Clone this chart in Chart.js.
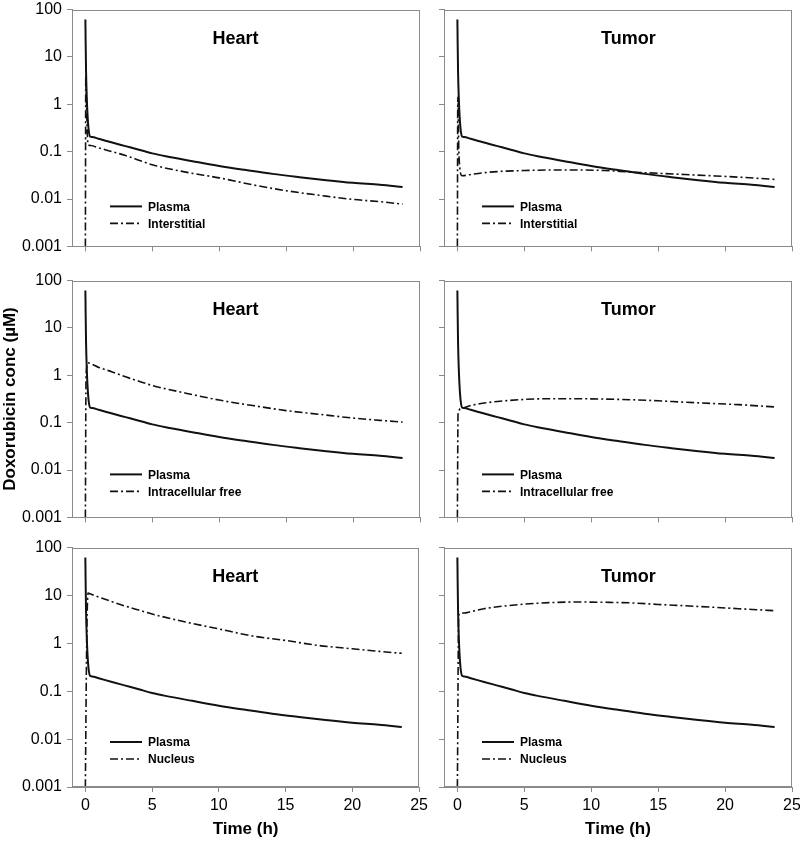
<!DOCTYPE html>
<html>
<head>
<meta charset="utf-8">
<script src="https://cdn.jsdelivr.net/npm/chart.js@4.4.1/dist/chart.umd.min.js"></script>
<style>
html, body { margin: 0; padding: 0; background: #fff; overflow: hidden; }
#wrap { position: relative; width: 800px; height: 843px; overflow: hidden; }
#wrap canvas { position: absolute; }
</style>
</head>
<body>
<div id="wrap"></div>
<script>
// Doxorubicin conc (µM) vs time (h)
const plasmaTime = [0, 0.02, 0.05, 0.1, 0.2, 0.35, 0.5, 1, 2, 3, 4, 5, 6, 8, 10, 12, 14, 16, 18, 20, 22, 23.7];
const plasmaConc = [62, 20, 5, 1.5, 0.4, 0.21, 0.204, 0.187, 0.156, 0.131, 0.11, 0.092, 0.08, 0.063, 0.05, 0.041, 0.034, 0.029, 0.025, 0.022, 0.02, 0.018];

const heartInterTime = [0, 0.03, 0.1, 0.2, 0.4, 1, 2, 3, 5, 7.5, 10, 12.5, 15, 17.5, 20, 22, 23.7];
const heartInterConc = [0.001, 4, 0.6, 0.14, 0.135, 0.12, 0.1, 0.083, 0.053, 0.037, 0.028, 0.02, 0.015, 0.012, 0.0098, 0.0088, 0.0078];

const tumorInterTime = [0, 0.03, 0.12, 0.35, 1, 2, 3, 5, 7, 9, 11, 13, 15, 17, 19, 21, 23.7];
const tumorInterConc = [0.001, 1.4, 0.08, 0.031, 0.033, 0.036, 0.038, 0.04, 0.041, 0.041, 0.04, 0.037, 0.035, 0.033, 0.031, 0.029, 0.026];

const heartFreeTime = [0, 0.05, 0.2, 0.4, 1, 2, 3, 4, 5, 7.5, 10, 12.5, 15, 17.5, 20, 22, 23.7];
const heartFreeConc = [0.001, 1.0, 1.84, 1.76, 1.47, 1.18, 0.93, 0.75, 0.61, 0.42, 0.30, 0.23, 0.18, 0.15, 0.125, 0.112, 0.103];

const tumorFreeTime = [0, 0.05, 0.3, 1, 2, 3, 5, 7, 9, 11, 13, 15, 17, 19, 21, 23.7];
const tumorFreeConc = [0.001, 0.15, 0.2, 0.23, 0.26, 0.28, 0.31, 0.32, 0.32, 0.315, 0.305, 0.29, 0.27, 0.255, 0.24, 0.215];

const heartNucTime = [0, 0.1, 0.2, 0.4, 1, 2, 3, 4, 5, 7.5, 10, 12.5, 15, 17.5, 20, 22, 23.7];
const heartNucConc = [0.001, 1.0, 11.2, 10.7, 9.3, 7.4, 6.0, 4.95, 4.1, 2.8, 2.0, 1.43, 1.15, 0.9, 0.77, 0.68, 0.62];

const tumorNucTime = [0, 0.1, 0.5, 1, 2, 3, 5, 7, 9, 11, 13, 15, 17, 19, 21, 23.7];
const tumorNucConc = [0.001, 3.9, 4.3, 4.6, 5.3, 5.8, 6.6, 7.1, 7.3, 7.2, 7.0, 6.5, 6.1, 5.7, 5.3, 4.8];

const timeTicks = [0, 5, 10, 15, 20, 25];
const concTicks = [0.001, 0.01, 0.1, 1, 10, 100];
const concLabels = ['0.001', '0.01', '0.1', '1', '10', '100'];

const panels = [
	{row: 0, col: 0, title: 'Heart', name: 'Interstitial', time: heartInterTime, conc: heartInterConc},
	{row: 0, col: 1, title: 'Tumor', name: 'Interstitial', time: tumorInterTime, conc: tumorInterConc},
	{row: 1, col: 0, title: 'Heart', name: 'Intracellular free', time: heartFreeTime, conc: heartFreeConc},
	{row: 1, col: 1, title: 'Tumor', name: 'Intracellular free', time: tumorFreeTime, conc: tumorFreeConc},
	{row: 2, col: 0, title: 'Heart', name: 'Nucleus', time: heartNucTime, conc: heartNucConc},
	{row: 2, col: 1, title: 'Tumor', name: 'Nucleus', time: tumorNucTime, conc: tumorNucConc},
];

const FONT = '"Liberation Sans", Arial, Helvetica, sans-serif';
Chart.defaults.font.family = FONT;
Chart.defaults.color = '#000';

const axisColor = '#8a8a8a';

// layout of the 3x2 grid (canvas boxes; plot areas line up through padding + forced axis sizes)
const cols = [
	{left: 0, width: 432, padRight: 12, yWidth: 72, titleX: 0.47},
	{left: 420, width: 392, padRight: 20, yWidth: 24, titleX: 0.53},
];
const rows = [
	{top: -5, axisH: 12, legendBottom: 40},
	{top: 266, axisH: 12, legendBottom: 43},
	{top: 533, axisH: 56, legendBottom: 45},
];
const PAD_TOP = 12;
const PLOT_H = 242;

const panelDecor = {
	id: 'panelDecor',
	afterDatasetsDraw(chart, args, opts) {
		const {ctx, chartArea: a} = chart;
		ctx.save();
		ctx.setLineDash([]);
		ctx.strokeStyle = axisColor;
		ctx.lineWidth = 1;
		ctx.strokeRect(Math.round(a.left) + 0.5, Math.round(a.top) + 0.5, Math.round(a.width) - 1, Math.round(a.height) - 1);

		ctx.fillStyle = '#000';
		ctx.font = 'bold 18px ' + FONT;
		ctx.textAlign = 'center';
		ctx.textBaseline = 'middle';
		ctx.fillText(opts.title, a.left + a.width * opts.titleX, a.top + 29);

		// legend inside the plot, lower left
		ctx.font = 'bold 12px ' + FONT;
		ctx.textAlign = 'left';
		chart.data.datasets.forEach((ds, i) => {
			const y = a.bottom - opts.legendBottom + i * 17;
			ctx.strokeStyle = ds.borderColor;
			ctx.lineWidth = ds.borderWidth;
			ctx.setLineDash(ds.borderDash || []);
			ctx.beginPath();
			ctx.moveTo(a.left + 38, y);
			ctx.lineTo(a.left + 70, y);
			ctx.stroke();
			ctx.fillText(ds.label, a.left + 76, y + 1);
		});
		ctx.restore();
	},
};

const wrap = document.getElementById('wrap');

panels.forEach((p) => {
	const c = cols[p.col];
	const r = rows[p.row];
	const canvas = document.createElement('canvas');
	const h = PAD_TOP + PLOT_H + r.axisH;
	canvas.width = c.width;
	canvas.height = h;
	canvas.style.left = c.left + 'px';
	canvas.style.top = r.top + 'px';
	wrap.appendChild(canvas);

	const isLeft = p.col === 0;
	const isBottom = p.row === 2;

	new Chart(canvas, {
		type: 'line',
		data: {
			datasets: [
				{
					label: 'Plasma',
					data: plasmaTime.map((t, i) => ({x: t, y: plasmaConc[i]})),
					borderColor: '#111',
					borderWidth: 2,
					pointRadius: 0,
					cubicInterpolationMode: 'monotone',
				},
				{
					label: p.name,
					data: p.time.map((t, i) => ({x: t, y: p.conc[i]})),
					borderColor: '#111',
					borderWidth: 1.6,
					borderDash: [8, 3, 2, 3],
					pointRadius: 0,
					cubicInterpolationMode: 'monotone',
				},
			],
		},
		options: {
			responsive: false,
			animation: false,
			events: [],
			layout: {padding: {top: PAD_TOP, left: 0, right: c.padRight, bottom: 0}},
			scales: {
				x: {
					type: 'linear',
					min: -1,
					max: 25,
					afterBuildTicks: (s) => { s.ticks = timeTicks.map((v) => ({value: v})); },
					afterFit: (s) => { s.height = r.axisH; },
					grid: {drawOnChartArea: false, tickLength: 5, color: axisColor},
					border: {color: axisColor},
					ticks: {
						font: {size: 16},
						color: '#000',
						padding: 4,
						maxRotation: 0,
						callback: (v) => (isBottom ? String(v) : ''),
					},
					title: {
						display: isBottom,
						text: 'Time (h)',
						font: {size: 17, weight: 'bold'},
						color: '#000',
						padding: {top: 0, bottom: 3},
					},
				},
				y: {
					type: 'logarithmic',
					min: 0.001,
					max: 100,
					afterBuildTicks: (s) => { s.ticks = concTicks.map((v) => ({value: v})); },
					afterFit: (s) => { s.width = c.yWidth; },
					grid: {drawOnChartArea: false, tickLength: 5, color: axisColor},
					border: {color: axisColor},
					ticks: {
						font: {size: 16},
						color: '#000',
						padding: 5,
						callback: (v) => (isLeft ? concLabels[concTicks.indexOf(v)] : ''),
					},
					title: {
						display: isLeft && p.row === 1,
						text: 'Doxorubicin conc (µM)',
						font: {size: 17, weight: 'bold'},
						color: '#000',
						padding: {top: 0, bottom: 0},
					},
				},
			},
			plugins: {
				legend: {display: false},
				tooltip: {enabled: false},
				panelDecor: {title: p.title, titleX: c.titleX, legendBottom: r.legendBottom},
			},
		},
		plugins: [panelDecor],
	});
});
</script>
</body>
</html>
